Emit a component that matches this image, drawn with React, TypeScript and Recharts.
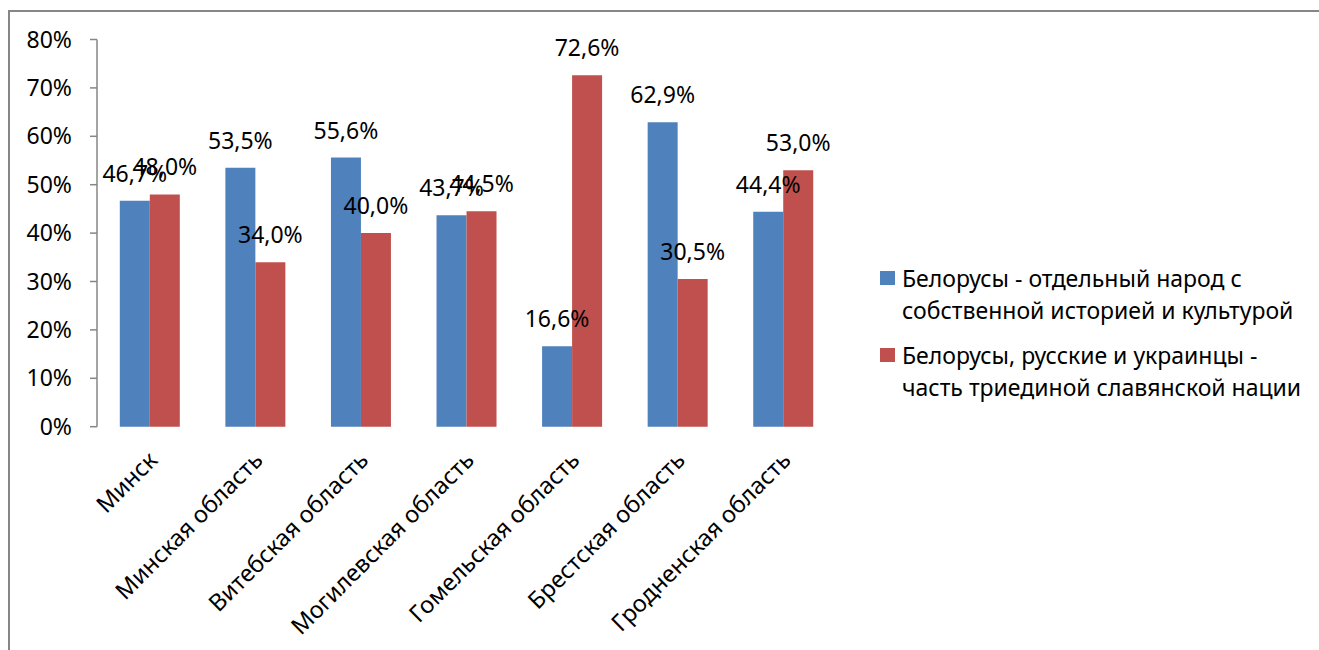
import { BarChart, Bar, XAxis, YAxis, Legend, LabelList } from 'recharts';

const regions = [
  'Минск',
  'Минская область',
  'Витебская область',
  'Могилевская область',
  'Гомельская область',
  'Брестская область',
  'Гродненская область',
];
const separateNation = [46.7, 53.5, 55.6, 43.7, 16.6, 62.9, 44.4];
const triuneNation = [48.0, 34.0, 40.0, 44.5, 72.6, 30.5, 53.0];
const seriesNames = [
  'Белорусы - отдельный народ с собственной историей и культурой',
  'Белорусы, русские и украинцы - часть триединой славянской нации',
];
const yTicks = [0, 10, 20, 30, 40, 50, 60, 70, 80];
const edgeTicks = [0, 1, 2, 3, 4, 5, 6, 7];

const BLUE = '#4F81BD';
const RED = '#C0504D';
const AXIS = '#868686';
const FONT = '"Noto Sans", sans-serif';

const data = regions.map((region, i) => ({
  region,
  a: separateNation[i],
  b: triuneNation[i],
}));

const fmt = (v: any) => `${Number(v).toFixed(1).replace('.', ',')}%`;

function RotatedTick({ x, y, payload }: any) {
  const ax = x + 9;
  const ay = y + 35;
  return (
    <text
      x={ax}
      y={ay}
      transform={`rotate(-45 ${ax} ${ay})`}
      textAnchor="end"
      fill="#000"
      fontSize={23.5}
      fontFamily={FONT}
    >
      {payload.value}
    </text>
  );
}

function LegendBox() {
  const colors = [BLUE, RED];
  return (
    <div style={{ fontFamily: FONT, fontSize: 23, color: '#000', lineHeight: '32px' }}>
      {seriesNames.map((name, i) => (
        <div key={name} style={{ display: 'flex', alignItems: 'flex-start', marginBottom: 13 }}>
          <span
            style={{
              width: 15,
              height: 14,
              background: colors[i],
              marginTop: 9,
              marginRight: 7,
              flex: 'none',
            }}
          />
          <span style={{ width: 410 }}>{name}</span>
        </div>
      ))}
    </div>
  );
}

export default function App() {
  return (
    <div style={{ position: 'fixed', left: 0, top: 0, width: 1319, height: 650, background: '#fff' }}>
      <div
        style={{
          position: 'absolute',
          left: 8,
          top: 10,
          width: 1311,
          height: 640,
          borderTop: `2px solid ${AXIS}`,
          borderLeft: `2px solid ${AXIS}`,
          boxSizing: 'border-box',
        }}
      />
      <div style={{ position: 'absolute', left: 0, top: 0 }}>
        <BarChart
          width={1319}
          height={650}
          data={data}
          margin={{ top: 39.5, right: 483, bottom: 23.3, left: 17 }}
          barCategoryGap="21.6%"
          barGap={0}
        >
          <XAxis
            xAxisId="edges"
            type="number"
            domain={[0, 7]}
            ticks={edgeTicks}
            allowDataOverflow
            height={0}
            interval={0}
            tickSize={7}
            tick={() => <g />}
            stroke={AXIS}
            strokeWidth={1.5}
          />
          <XAxis
            xAxisId="cat"
            dataKey="region"
            height={200}
            interval={0}
            tickSize={0}
            tickMargin={0}
            tickLine={false}
            axisLine={false}
            tick={<RotatedTick />}
          />
          <YAxis
            width={80}
            domain={[0, 80]}
            ticks={yTicks}
            interval={0}
            tickFormatter={(v) => `${v}%`}
            tickSize={7}
            tickMargin={18}
            stroke={AXIS}
            strokeWidth={1.5}
            tick={{ fill: '#000', fontSize: 23, fontFamily: FONT }}
          />
          <Legend
            layout="horizontal"
            verticalAlign="middle"
            align="center"
            content={() => <LegendBox />}
            wrapperStyle={{ left: 880, top: 262, width: 430 }}
          />
          <Bar xAxisId="cat" dataKey="a" name={seriesNames[0]} fill={BLUE} isAnimationActive={false}>
            <LabelList
              dataKey="a"
              position="top"
              offset={19}
              formatter={fmt}
              fill="#000"
              fontSize={23}
              fontFamily={FONT}
            />
          </Bar>
          <Bar xAxisId="cat" dataKey="b" name={seriesNames[1]} fill={RED} isAnimationActive={false}>
            <LabelList
              dataKey="b"
              position="top"
              offset={19}
              formatter={fmt}
              fill="#000"
              fontSize={23}
              fontFamily={FONT}
            />
          </Bar>
        </BarChart>
      </div>
    </div>
  );
}
